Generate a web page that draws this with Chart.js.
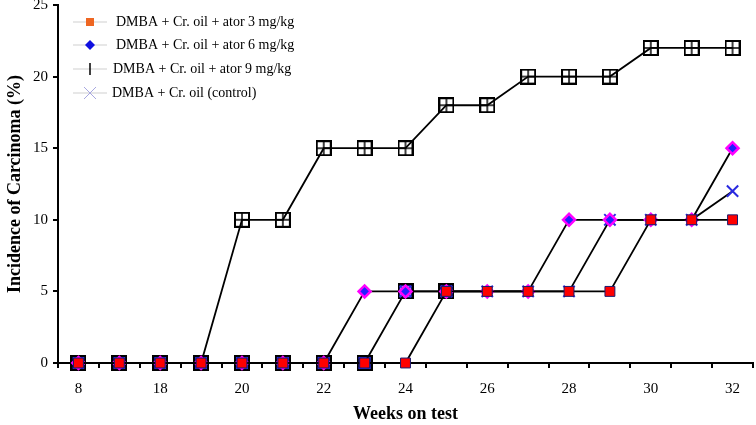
<!DOCTYPE html>
<html>
<head>
<meta charset="utf-8">
<script src="https://cdn.jsdelivr.net/npm/chart.js@4.4.1/dist/chart.umd.min.js"></script>
<style>
  html, body { margin: 0; padding: 0; background: #fff; }
</style>
</head>
<body>
<canvas id="incidenceChart" width="756" height="425"></canvas>
<script>
// x axis: weeks on test (only every other label is printed)
const weekLabels = ['8', '', '18', '', '20', '', '22', '', '24', '', '26', '', '28', '', '30', '', '32'];
const yTicks = [0, 5, 10, 15, 20, 25];

const seriesNames = [
    'DMBA + Cr. oil + ator 3 mg/kg',
    'DMBA + Cr. oil + ator 6 mg/kg',
    'DMBA + Cr. oil + ator 9 mg/kg',
    'DMBA + Cr. oil (control)',
];
const ator3 = [0, 0, 0, 0, 0, 0, 0, 0, 0, 5, 5, 5, 5, 5, 10, 10, 10];
const ator6 = [0, 0, 0, 0, 0, 0, 0, 5, 5, 5, 5, 5, 10, 10, 10, 10, 15];
const ator9 = [0, 0, 0, 0, 10, 10, 15, 15, 15, 18, 18, 20, 20, 20, 22, 22, 22];
const control = [0, 0, 0, 0, 0, 0, 0, 0, 5, 5, 5, 5, 5, 10, 10, 10, 12];
// leftover hollow squares seen in the picture (no legend entry)
const overlapMarks = [0, 0, 0, 0, 0, 0, 0, 0, 5, 5, null, null, null, null, null, null, null];

const serif = '"Liberation Serif", "Times New Roman", serif';

// small canvas markers
function makeMarker(size, draw) {
    const c = document.createElement('canvas');
    c.width = size;
    c.height = size;
    draw(c.getContext('2d'), size);
    return c;
}
const gridBox = makeMarker(16, (g, s) => {
    g.strokeStyle = '#000';
    g.lineWidth = 2;
    g.strokeRect(1, 1, s - 2, s - 2);
    g.lineWidth = 1.5;
    g.beginPath();
    g.moveTo(s / 2, 2);
    g.lineTo(s / 2, s - 2);
    g.moveTo(2, s / 2);
    g.lineTo(s - 2, s / 2);
    g.stroke();
});
const hollowBox = makeMarker(16, (g, s) => {
    g.strokeStyle = '#000';
    g.lineWidth = 2;
    g.strokeRect(1, 1, s - 2, s - 2);
    g.strokeStyle = '#2a2ae0';
    g.lineWidth = 1;
    g.strokeRect(2.5, 2.5, s - 5, s - 5);
});

// legend icons
const legendIcons = [
    (ctx, x, y) => { ctx.fillStyle = '#ee6622'; ctx.fillRect(x - 4, y - 4, 8, 8); },
    (ctx, x, y) => {
        ctx.fillStyle = '#1010e0';
        ctx.beginPath();
        ctx.moveTo(x, y - 5); ctx.lineTo(x + 5, y); ctx.lineTo(x, y + 5); ctx.lineTo(x - 5, y);
        ctx.closePath();
        ctx.fill();
    },
    (ctx, x, y) => {
        ctx.strokeStyle = '#000'; ctx.lineWidth = 1.5;
        ctx.beginPath(); ctx.moveTo(x, y - 6); ctx.lineTo(x, y + 6); ctx.stroke();
    },
    (ctx, x, y) => {
        ctx.strokeStyle = '#a8a8e0'; ctx.lineWidth = 1;
        ctx.beginPath();
        ctx.moveTo(x - 6, y - 6); ctx.lineTo(x + 6, y + 6);
        ctx.moveTo(x + 6, y - 6); ctx.lineTo(x - 6, y + 6);
        ctx.stroke();
    },
];

const legendBox = {
    id: 'legendBox',
    afterDraw(chart) {
        const ctx = chart.ctx;
        const rows = [22, 45, 69, 93];
        const textX = [116, 116, 113, 112];
        ctx.save();
        ctx.font = '14px ' + serif;
        ctx.textBaseline = 'middle';
        seriesNames.forEach((name, i) => {
            const y = rows[i];
            ctx.strokeStyle = '#cfcfcf';
            ctx.lineWidth = 1;
            ctx.beginPath();
            ctx.moveTo(73, y);
            ctx.lineTo(107, y);
            ctx.stroke();
            legendIcons[i](ctx, 90, y);
            ctx.fillStyle = '#000';
            ctx.fillText(name, textX[i], y);
        });
        ctx.restore();
    }
};

const lineBase = {
    borderColor: '#000',
    borderWidth: 1.8,
    tension: 0,
    fill: false,
    clip: false,
};

new Chart(document.getElementById('incidenceChart'), {
    type: 'line',
    data: {
        labels: weekLabels,
        datasets: [
            Object.assign({}, lineBase, {
                label: seriesNames[0],
                data: ator3,
                pointStyle: 'rect',
                pointRadius: 7,
                pointBackgroundColor: '#ff0000',
                pointBorderColor: '#1a1a6e',
                pointBorderWidth: 1,
            }),
            Object.assign({}, lineBase, {
                label: seriesNames[1],
                data: ator6,
                pointStyle: 'rectRot',
                pointRadius: 6,
                pointBackgroundColor: '#2020ff',
                pointBorderColor: '#ff00ff',
                pointBorderWidth: 2.5,
            }),
            Object.assign({}, lineBase, {
                label: seriesNames[2],
                data: ator9,
                pointStyle: gridBox,
            }),
            Object.assign({}, lineBase, {
                label: seriesNames[3],
                data: control,
                pointStyle: 'crossRot',
                pointRadius: 8,
                pointBorderColor: '#2a2ae0',
                pointBorderWidth: 2,
            }),
            Object.assign({}, lineBase, {
                label: 'overlap',
                data: overlapMarks,
                showLine: false,
                pointStyle: hollowBox,
            }),
        ],
    },
    options: {
        responsive: false,
        animation: false,
        events: [],
        layout: { autoPadding: false, padding: { top: 5, right: 3, left: 0, bottom: 0 } },
        plugins: {
            legend: { display: false },
            tooltip: { enabled: false },
        },
        scales: {
            x: {
                type: 'category',
                offset: true,
                grid: { offset: true, drawOnChartArea: false, tickLength: 5, color: '#000', lineWidth: 2 },
                border: { color: '#000', width: 2 },
                ticks: {
                    autoSkip: false,
                    maxRotation: 0,
                    padding: 12,
                    color: '#000',
                    font: { family: serif, size: 15 },
                },
                title: {
                    display: true,
                    text: 'Weeks on test',
                    color: '#000',
                    font: { family: serif, size: 18, weight: 'bold' },
                    padding: { top: 0, bottom: 0 },
                },
                afterFit: (s) => {
                    s.height = 62;
                    s.paddingLeft = 0;
                    s.paddingRight = 0;
                },
            },
            y: {
                min: 0,
                max: 25,
                afterBuildTicks: (s) => {
                    s.ticks = yTicks.map((v) => ({ value: v }));
                },
                grid: { drawOnChartArea: false, tickLength: 5, color: '#000', lineWidth: 2 },
                border: { color: '#000', width: 2 },
                ticks: {
                    padding: 5,
                    color: '#000',
                    font: { family: serif, size: 15 },
                },
                title: {
                    display: true,
                    text: 'Incidence of Carcinoma (%)',
                    color: '#000',
                    font: { family: serif, size: 18, weight: 'bold' },
                    padding: { top: 5, bottom: 0 },
                },
                afterFit: (s) => {
                    s.width = 58;
                    s.paddingTop = 0;
                    s.paddingBottom = 0;
                },
            },
        },
    },
    plugins: [legendBox],
});
</script>
</body>
</html>
